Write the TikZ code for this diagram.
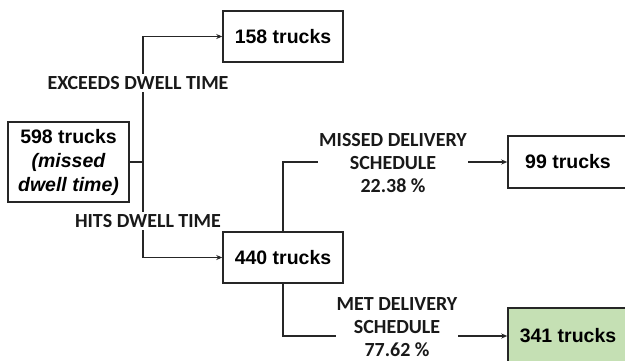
\documentclass[tikz,border=0pt]{standalone}
\usepackage{fontspec}
\setmainfont{Liberation Sans}
\newfontfamily\lblfont{Carlito}
\usetikzlibrary{arrows.meta}
\definecolor{boxgreen}{HTML}{C5E0B4}
\definecolor{linegray}{HTML}{262626}
\tikzset{
  truckbox/.style={draw=linegray, line width=1.5pt, fill=white, align=center,
    font=\fontsize{19.5}{24}\selectfont\bfseries, text=black, inner sep=0pt},
  branchlbl/.style={fill=white, align=center, inner xsep=1pt, inner ysep=2pt,
    font=\lblfont\fontsize{20}{23}\selectfont\bfseries, text=black!90},
  conn/.style={draw=linegray, line width=1.3pt},
  arr/.style={conn, -{Stealth[length=6pt,width=5pt]}}
}
\begin{document}
\begin{tikzpicture}[x=1pt,y=-1pt]
\useasboundingbox (0,0) rectangle (625,360);
\node[truckbox, minimum width=121pt, minimum height=80pt] (b598) at (68.5,162)
  {598 trucks\\\itshape (missed\\\itshape dwell time)};
\node[truckbox, minimum width=120pt, minimum height=51pt] (b158) at (283,36.5) {158 trucks};
\node[truckbox, minimum width=120pt, minimum height=51pt] (b440) at (283,257.5) {440 trucks};
\node[truckbox, minimum width=130pt, minimum height=52pt] (b99) at (573,162) {99 trucks\hspace*{10pt}};
\node[truckbox, fill=boxgreen, minimum width=130pt, minimum height=56pt] (b341) at (573,336) {341 trucks\hspace*{10pt}};
\coordinate (j) at (143,162);
\draw[conn] (b598.east) -- (j);
\draw[arr] (j) |- (b158.west);
\draw[arr] (j) |- (b440.west);
\draw[arr] (b440.north) |- (b99.west);
\draw[arr] (b440.south) |- (b341.west);
\node[branchlbl] (l1) at (138,83) {EXCEEDS DWELL TIME};
\node[branchlbl] (l2) at (148,221) {HITS DWELL TIME};
\node[branchlbl] (l3) at (393,163) {MISSED DELIVERY\\SCHEDULE\\22.38 \%};
\node[branchlbl] (l4) at (397,327) {MET DELIVERY\\SCHEDULE\\77.62 \%};
\end{tikzpicture}
\end{document}
